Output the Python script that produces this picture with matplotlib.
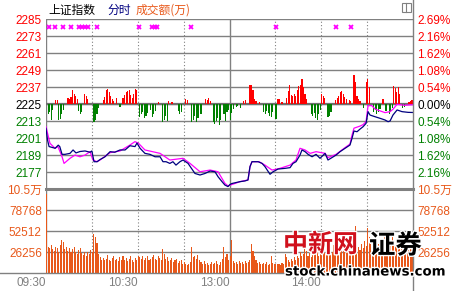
import matplotlib
matplotlib.use("Agg")
import matplotlib.pyplot as plt
from matplotlib import patheffects
from matplotlib.lines import Line2D
from matplotlib.patches import Rectangle

plt.rcParams['font.family'] = ['Liberation Sans', 'Noto Sans CJK SC', 'DejaVu Sans']

# ---- data (minutes from 09:30, lunch break removed) ----
price_ticks = [2285, 2273, 2261, 2249, 2237, 2225, 2213, 2201, 2189, 2177]
pct_labels = ["2.69%", "2.16%", "1.62%", "1.08%", "0.54%", "0.00%", "0.54%", "1.08%", "1.62%", "2.16%"]
vol_ticks = [105024, 78768, 52512, 26256]
vol_labels = ["10.5万", "78768", "52512", "26256"]
time_ticks = [0, 60, 120, 180]
time_labels = ["09:30", "10:30", "13:00", "14:00"]

price_min = [0, 1, 2, 6, 8, 9, 10.5, 12.4, 15.7, 17.7, 19.6, 22.2, 25.5, 28.8, 30, 31.4, 33.4, 35.3,
             38.6, 41.9, 45, 48.4, 51.7, 54.9, 58.2, 59.5, 61.5, 64.7, 68, 71.3, 74.6, 76.5, 78.5,
             81, 83, 85, 87.6, 89.6, 92.9, 97.4, 100.7, 104, 107.3, 110.5, 112.5, 115.1, 117, 119,
             120.3, 121.6, 126.9, 130.1, 132.1, 133.4, 134.7, 138.7, 141.3, 143.2, 146.5, 148.5,
             151.7, 156.3, 159.6, 161.5, 163.5, 166.1, 167.4, 169.4, 171.4, 174, 176.6, 179.2,
             182.5, 184.4, 187, 189.7, 192.3, 195.6, 198.8, 200.1, 201.4, 203.4, 205.4, 207.3,
             209.3, 210.6, 211.9, 215.2, 218.4, 221.7, 223.7, 225, 226.9, 229.6, 232.8, 236.8, 240]
price_val = [2207.9, 2199.6, 2195.0, 2193.8, 2196.0, 2195.0, 2189.5, 2189.5, 2190.2, 2192.6, 2190.5,
             2191.5, 2191.9, 2191.0, 2191.9, 2184.3, 2184.3, 2185.8, 2187.8, 2191.4, 2191.0, 2192.6,
             2192.6, 2195.6, 2195.0, 2197.5, 2193.8, 2190.2, 2189.5, 2187.8, 2187.8, 2184.3, 2184.3,
             2183.1, 2184.3, 2181.9, 2184.3, 2185.5, 2183.1, 2176.0, 2174.9, 2176.0, 2177.7, 2177.2,
             2173.7, 2170.2, 2167.8, 2166.7, 2168.2, 2168.9, 2170.2, 2170.7, 2171.4, 2180.8, 2184.3,
             2184.3, 2183.1, 2180.8, 2175.4, 2177.2, 2179.1, 2179.6, 2180.1, 2183.1, 2184.3, 2189.0,
             2192.6, 2191.4, 2189.5, 2187.8, 2189.5, 2186.7, 2190.2, 2185.5, 2187.2, 2189.0, 2191.4,
             2193.8, 2196.1, 2200.8, 2206.0, 2205.5, 2207.4, 2209.0, 2211.4, 2219.7, 2217.3, 2216.1,
             2215.0, 2213.8, 2212.6, 2213.1, 2217.3, 2220.9, 2219.7, 2219.2, 2219.1]

avg_min = [0, 2.6, 5.9, 7.8, 10.5, 11.8, 15.7, 19, 22.2, 25.5, 28.8, 30.7, 33.4, 35.3, 41.9, 48.4,
           54.9, 58.2, 60.5, 64.7, 74.6, 81, 89.6, 94.2, 100.7, 107.3, 112.5, 117, 119, 126.9, 132.1,
           133.4, 134.7, 139.4, 143.2, 147.8, 153, 159.6, 163.5, 166.1, 169.4, 172.7, 176.6, 182.5,
           184.4, 189.7, 195.6, 198.8, 200.1, 201.4, 205.4, 207.3, 209.3, 210.6, 213, 215.2, 221.7,
           225, 227, 229.6, 234.4, 240]
avg_val = [2209.0, 2197.3, 2193.8, 2195.0, 2187.8, 2183.1, 2186.7, 2189.0, 2187.8, 2189.0, 2191.4,
           2185.5, 2184.3, 2185.5, 2190.7, 2191.9, 2196.1, 2198.5, 2197.3, 2192.6, 2190.2, 2185.5,
           2186.7, 2183.1, 2177.2, 2178.4, 2177.2, 2169.0, 2167.2, 2170.2, 2171.4, 2180.8, 2184.3,
           2184.3, 2181.9, 2178.4, 2179.6, 2181.9, 2185.5, 2193.8, 2192.6, 2190.2, 2191.4, 2190.2,
           2187.2, 2189.5, 2194.3, 2196.8, 2203.0, 2208.0, 2209.5, 2210.5, 2212.6, 2223.9, 2224.0,
           2221.5, 2219.0, 2219.7, 2221.5, 2224.9, 2224.2, 2224.6]

breadth_min = [1, 2, 3, 4, 6, 7, 8, 9, 10, 11, 14, 15, 16, 17, 18, 19, 20, 21, 22, 23, 25, 26, 27,
               31, 32, 33, 34, 37, 38, 39, 40, 41, 42, 43, 44, 46, 48, 50, 51, 52, 53, 54, 55, 56,
               57, 58, 59, 61, 62, 63, 64, 65, 66, 68, 69, 70, 71, 73, 76, 77, 78, 79, 80, 82, 86,
               87, 88, 91, 92, 95, 96, 97, 98, 99, 101, 104, 105, 106, 107, 109, 110, 111, 112, 113,
               114, 116, 117, 118, 119, 120, 121, 122, 124, 125, 127, 129, 130, 133, 134, 135, 136,
               137, 139, 142, 143, 144, 145, 146, 147, 148, 150, 151, 152, 154, 157, 158, 159, 160,
               161, 162, 163, 164, 165, 166, 167, 168, 169, 170, 173, 174, 175, 176, 177, 178, 179,
               180, 181, 182, 184, 185, 186, 189, 190, 191, 192, 193, 194, 195, 196, 198, 199, 201,
               202, 203, 204, 205, 207, 209, 210, 211, 214, 215, 216, 217, 218, 220, 222, 224, 225,
               226, 227, 228, 229, 230, 231, 233, 234, 237, 238, 239]
breadth_val = [-7.0, -5.6, -11.3, -4.2, 2.8, 2.8, -11.3, -10.6, -7.0, -4.2, 4.2, 3.5, 4.9, 9.9, 7.0,
               5.6, 3.5, -4.9, -7.0, -5.6, 7.0, 5.6, 3.5, -12.7, -11.3, -7.0, -3.0, 2.8, 4.9, 9.9,
               10.6, 8.5, 5.6, 3.5, 2.0, 4.0, -2.1, 4.2, 6.4, 8.5, 9.2, 9.9, 6.4, 4.2, 7.0, 10.6, 9.9,
               -9.2, -7.0, -5.6, -9.9, -8.5, -6.4, -4.2, -9.2, -7.0, -4.9, 1.4, -12.7, -11.3, -8.5,
               -12.0, 2.0, 1.4, -4.9, -7.0, -5.6, 3.5, 2.8, -12.7, -11.3, -8.5, -12.7, -9.9, -7.0,
               3.5, 2.8, 4.2, 2.1, -12.7, -14.1, -12.0, -9.9, -14.8, -11.3, -7.0, -12.0, -5.6, -4.2,
               -11.3, -6.4, -3.5, -2.1, -1.4, -2.8, 2.1, 2.8, 13.4, 13.4, 10.0, 3.5, 2.0, 1.4, -5.6,
               -7.0, -5.0, -6.4, -8.5, -9.2, -5.6, -10.6, 3.5, 3.5, 1.4, 4.2, 9.2, 13.4, 6.4, 5.6,
               7.0, 5.6, 9.9, 12.7, 13.4, 17.7, 12.0, 7.0, 3.5, -7.0, -8.5, -6.4, -10.0, -11.3, -7.0,
               -4.2, 7.0, 5.6, 4.2, -9.2, -8.5, -5.6, 2.8, 4.2, 5.6, 8.5, 9.2, 7.0, 5.0, 3.5, 2.8,
               2.1, 20.5, 16.0, 5.6, 3.5, 2.0, -2.8, 16.0, 17.7, 12.0, -5.6, -4.2, -7.0, -5.6, -3.5,
               3.5, -4.9, -7.0, -5.6, -2.8, 12.7, 11.3, 8.5, 12.0, 7.0, -2.8, -2.1, 1.4, 2.1, 2.8]

mark_min = [2.2, 5.9, 11.3, 16.4, 21.6, 23.5, 25.5, 27.5, 33.2, 60.8, 69.3, 71.3, 72.6, 94.6,
            150.6, 189.9, 199.3]

volume = [
    99000,
    33000, 31000, 35000, 30000, 28000, 33000, 31000, 27000, 35000, 42000,
    39000, 30000, 33000, 28000, 31000, 26000, 30000, 33000, 27000, 24000,
    29000, 31000, 25000, 23000, 27000, 22000, 26000, 24000, 29000, 27000,
    49000, 45000, 38000, 24000, 20000, 17000, 19000, 16000, 18000, 23000,
    17000, 15000, 19000, 21000, 16000, 18000, 15000, 20000, 17000, 22000,
    16000, 19000, 15000, 18000, 21000, 17000, 14000, 19000, 16000, 22000,
    20000, 18000, 22000, 17000, 19000, 21000, 16000, 18000, 20000, 23000,
    18000, 17000, 21000, 19000, 16000, 30000, 24000, 18000, 20000, 15000,
    17000, 19000, 14000, 16000, 18000, 13000, 15000, 17000, 12000, 14000,
    11000, 10000, 12000, 14000, 33000, 20000, 22000, 18000, 23000, 16000,
    14000, 12000, 15000, 11000, 13000, 10000, 12000, 14000, 11000, 13000,
    15000, 12000, 10000, 14000, 18000, 33000, 20000, 24000, 16000, 22000,
    42000, 15000, 13000, 14000, 12000, 15000, 13000, 14000, 12000, 15000,
    13000, 14000, 16000, 36000, 28000, 22000, 17000, 13000, 14000, 12000,
    11000, 13000, 12000, 14000, 10000, 12000, 22000, 13000, 11000, 12000,
    11000, 12000, 10000, 13000, 12000, 24000, 20000, 16000, 14000, 18000,
    15000, 20000, 17000, 22000, 19000, 26000, 21000, 24000, 33000, 28000,
    22000, 25000, 20000, 27000, 23000, 30000, 26000, 22000, 29000, 24000,
    28000, 25000, 32000, 27000, 23000, 30000, 26000, 35000, 29000, 24000,
    31000, 27000, 36000, 30000, 26000, 33000, 28000, 38000, 32000, 27000,
    35000, 59000, 42000, 33000, 29000, 37000, 31000, 40000, 34000, 57000,
    45000, 36000, 31000, 39000, 33000, 44000, 37000, 30000, 41000, 35000,
    46000, 38000, 32000, 42000, 36000, 48000, 39000, 34000, 43000, 37000,
    45000, 38000, 33000, 41000, 36000, 44000, 39000, 35000, 47000, 55000,
]

GRID = '#808080'
RED = '#ff0000'
GREEN = '#008000'
ORANGE = '#e8581a'

W, H = 458, 291
fig = plt.figure(figsize=(W / 100, H / 100), dpi=100)
L, R = 46 / W, 413 / W
ax = fig.add_axes([L, 1 - 189 / H, R - L, (189 - 19.3) / H])
axv = fig.add_axes([L, 1 - 273.3 / H, R - L, (273.3 - 189) / H])

for a in (ax, axv):
    a.set_xlim(0, 240)
    for s in a.spines.values():
        s.set_visible(False)
    a.tick_params(length=0, labelsize=8.5)
    for m in [30, 60, 90, 150, 180, 210]:
        a.axvline(m, color=GRID, lw=0.8, ls=(0, (1, 2)), zorder=1)
    a.axvline(120, color=GRID, lw=1, zorder=1)
    a.axvline(0, color=GRID, lw=1, zorder=1)

# price panel
ax.set_ylim(2165, 2285)
for p in price_ticks:
    ax.axhline(p, color=GRID, lw=1, zorder=1)
ax.axhline(2225, color='#707070', lw=1.6, zorder=1)
bcol = [RED if v > 0 else GREEN for v in breadth_val]
ax.bar(breadth_min, breadth_val, bottom=2225, width=0.75, align='edge', color=bcol,
       antialiased=False, zorder=2)
ax.plot(avg_min, avg_val, color='#ff00ff', lw=0.9, zorder=3)
ax.plot(price_min, price_val, color='#000080', lw=0.9, zorder=4)
ax.plot(mark_min, [2279.5] * len(mark_min), 'x', color='#ff00ff', ms=3.2, mew=1.3, zorder=4)

ax.set_xticks([])
ax.set_yticks(price_ticks)
ax.set_yticklabels([str(p) for p in price_ticks])
ax.tick_params(axis='y', pad=3)
ax2 = ax.twinx()
ax2.set_ylim(ax.get_ylim())
ax2.set_yticks(price_ticks)
ax2.set_yticklabels(pct_labels)
ax2.tick_params(length=0, labelsize=8.5, pad=3)
for s in ax2.spines.values():
    s.set_visible(False)
lab_col = [RED] * 5 + ['black'] + [GREEN] * 4
for t1, t2, c in zip(ax.get_yticklabels(), ax2.get_yticklabels(), lab_col):
    t1.set_color(c)
    t2.set_color(c)

# volume panel
axv.set_ylim(0, 105024)
for v in vol_ticks[1:]:
    axv.axhline(v, color=GRID, lw=1, zorder=1)
axv.axhline(105024, color=GRID, lw=2.2, clip_on=False, zorder=1)
axv.bar(range(len(volume)), volume, width=0.7, align='edge', color=ORANGE,
        antialiased=False, zorder=2)
axv.set_yticks(vol_ticks)
axv.set_yticklabels(vol_labels, color=ORANGE)
axv.tick_params(axis='y', pad=3)
axv.set_xticks(time_ticks)
axv.set_xticklabels(time_labels, color='#808080', ha='right')
axv.tick_params(axis='x', pad=3)
axv2 = axv.twinx()
axv2.set_ylim(axv.get_ylim())
axv2.set_yticks(vol_ticks)
axv2.set_yticklabels(vol_labels, color=ORANGE)
axv2.tick_params(length=0, labelsize=8.5, pad=3)
for s in axv2.spines.values():
    s.set_visible(False)

# frame lines
fig.add_artist(Line2D([0, R], [1 - 273.3 / H] * 2, color=GRID, lw=1))
fig.add_artist(Line2D([R, R], [0, 1], color=GRID, lw=1))
fig.add_artist(Rectangle((401.5 / W, 1 - 11.7 / H), 9.2 / W, 9 / H, transform=fig.transFigure,
                         fill=False, ec=GRID, lw=0.8))
fig.add_artist(Line2D([406.2 / W] * 2, [1 - 11.7 / H, 1 - 2.7 / H], color=GRID, lw=0.8))

# title
ty = 1 - 10 / H
fig.text(48 / W, ty, "上证指数", color='black', fontsize=8.5, va='center', family='Noto Sans CJK SC')
fig.text(107 / W, ty, "分时", color='#000080', fontsize=8.5, va='center', family='Noto Sans CJK SC')
fig.text(136 / W, ty, "成交额(万)", color=ORANGE, fontsize=8.5, va='center', family='Noto Sans CJK SC')

# watermark
halo = [patheffects.withStroke(linewidth=2, foreground='white')]
fig.text(283 / W, 1 - 245 / H, "中新网", color='#d0101c', fontsize=18, fontweight='bold',
         va='center', family='Noto Sans CJK SC', path_effects=halo)
fig.text(369 / W, 1 - 246 / H, "证券", color='black', fontsize=19, fontweight='bold',
         va='center', family='Noto Sans CJK SC', path_effects=halo)
fig.text(285 / W, 1 - 272 / H, "stock.chinanews.com", color='black', fontsize=9.6,
         fontweight='bold', va='center', family='DejaVu Sans', path_effects=halo)

fig.savefig("out.png", dpi=100, facecolor='white')
